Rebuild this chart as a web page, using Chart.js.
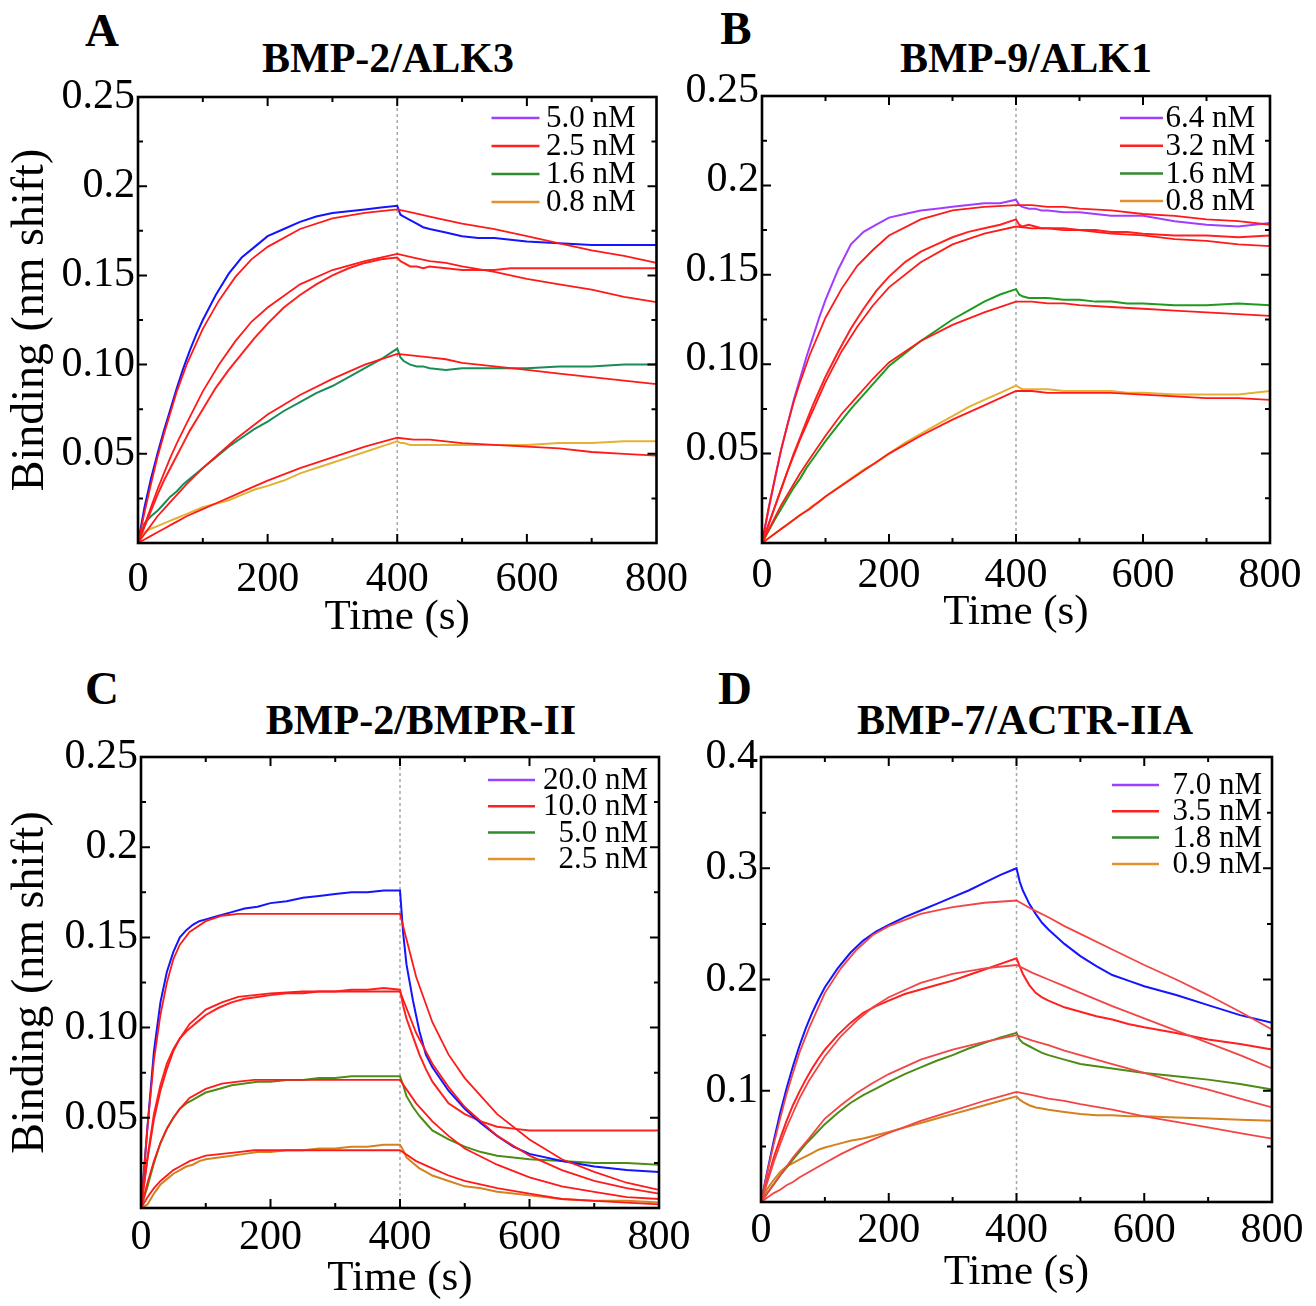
<!DOCTYPE html>
<html>
<head>
<meta charset="utf-8">
<script src="https://cdn.jsdelivr.net/npm/chart.js@4.4.1/dist/chart.umd.min.js"></script>
<style>
  body { margin: 0; background: #fff; width: 1316px; height: 1306px; position: relative; overflow: hidden;
         font-family: 'Liberation Serif', 'Times New Roman', serif; }
  canvas { position: absolute; }
  .lbl { position: absolute; font-weight: bold; transform: translate(-50%, -50%); white-space: nowrap;
         line-height: 1; color: #000; }
</style>
</head>
<body>
<div class="lbl" style="left:102px;top:30px;font-size:47px">A</div>
<div class="lbl" style="left:736px;top:28px;font-size:47px">B</div>
<div class="lbl" style="left:102px;top:688px;font-size:47px">C</div>
<div class="lbl" style="left:735px;top:688px;font-size:47px">D</div>
<div class="lbl" style="left:388px;top:58px;font-size:42px">BMP-2/ALK3</div>
<div class="lbl" style="left:1026px;top:58px;font-size:42px">BMP-9/ALK1</div>
<div class="lbl" style="left:421px;top:720px;font-size:42px">BMP-2/BMPR-II</div>
<div class="lbl" style="left:1025px;top:720px;font-size:42px">BMP-7/ACTR-IIA</div>

<canvas id="chartA" width="700" height="650" style="left:0;top:0"></canvas>
<canvas id="chartB" width="656" height="650" style="left:660px;top:0"></canvas>
<canvas id="chartC" width="700" height="656" style="left:0;top:650px"></canvas>
<canvas id="chartD" width="656" height="656" style="left:660px;top:650px"></canvas>

<script>
// sampling times (s)
const traceTime = [0, 10, 20, 30, 40, 50, 60, 70, 80, 90, 100, 120, 140, 160, 180, 200, 225, 250, 275, 300,
  325, 350, 375, 400, 405, 410, 420, 430, 440, 450, 475, 500, 525, 550, 575, 600, 650, 700, 750, 800];
const fitTime = [0, 10, 20, 30, 40, 50, 60, 75, 100, 125, 150, 175, 200, 250, 300, 350, 400,
  425, 450, 475, 500, 550, 600, 650, 700, 750, 800];
const switchTime = 400;
const xTicks = [0, 200, 400, 600, 800];

// A: BMP-2/ALK3
const concA = ['5.0 nM', '2.5 nM', '1.6 nM', '0.8 nM'];
const traceA1 = [0, 0.020, 0.036, 0.050, 0.063, 0.075, 0.087, 0.098, 0.108, 0.117, 0.125, 0.139, 0.151, 0.160, 0.166, 0.172, 0.176, 0.180, 0.183, 0.185,
  0.186, 0.187, 0.188, 0.189, 0.184, 0.183, 0.181, 0.179, 0.177, 0.176, 0.174, 0.172, 0.171, 0.171, 0.170, 0.169, 0.168, 0.167, 0.167, 0.167];
const traceA2 = [0, 0.009, 0.018, 0.027, 0.035, 0.042, 0.049, 0.056, 0.063, 0.069, 0.075, 0.087, 0.097, 0.106, 0.115, 0.123, 0.132, 0.139, 0.145, 0.150,
  0.154, 0.157, 0.159, 0.160, 0.158, 0.157, 0.155, 0.155, 0.154, 0.155, 0.154, 0.153, 0.153, 0.153, 0.154, 0.154, 0.154, 0.154, 0.154, 0.154];
const traceA3 = [0, 0.011, 0.015, 0.018, 0.022, 0.026, 0.029, 0.033, 0.036, 0.039, 0.042, 0.048, 0.054, 0.059, 0.064, 0.068, 0.074, 0.079, 0.084, 0.088,
  0.093, 0.098, 0.103, 0.109, 0.104, 0.102, 0.100, 0.099, 0.099, 0.098, 0.097, 0.098, 0.098, 0.098, 0.098, 0.098, 0.099, 0.099, 0.100, 0.100];
const traceA4 = [0, 0.006, 0.008, 0.0095, 0.011, 0.0125, 0.014, 0.0155, 0.017, 0.0185, 0.020, 0.022, 0.024, 0.027, 0.030, 0.032, 0.035, 0.039, 0.042, 0.045,
  0.048, 0.051, 0.054, 0.057, 0.056, 0.056, 0.055, 0.055, 0.055, 0.055, 0.055, 0.055, 0.055, 0.055, 0.055, 0.055, 0.056, 0.056, 0.057, 0.057];
const fitA1 = [0, 0.017, 0.033, 0.048, 0.061, 0.073, 0.085, 0.100, 0.120, 0.136, 0.149, 0.159, 0.166, 0.176, 0.182, 0.185, 0.187,
  0.185, 0.183, 0.181, 0.179, 0.176, 0.172, 0.168, 0.164, 0.161, 0.157];
const fitA2 = [0, 0.010, 0.020, 0.030, 0.039, 0.048, 0.056, 0.067, 0.085, 0.100, 0.113, 0.124, 0.132, 0.145, 0.153, 0.158, 0.162,
  0.160, 0.158, 0.157, 0.155, 0.152, 0.148, 0.145, 0.142, 0.138, 0.135];
const fitA3 = [0, 0.005, 0.010, 0.015, 0.019, 0.023, 0.027, 0.033, 0.042, 0.050, 0.058, 0.065, 0.072, 0.083, 0.092, 0.100, 0.106,
  0.105, 0.104, 0.103, 0.101, 0.099, 0.097, 0.095, 0.093, 0.091, 0.089];
const fitA4 = [0, 0.002, 0.004, 0.006, 0.008, 0.010, 0.012, 0.015, 0.019, 0.023, 0.027, 0.031, 0.035, 0.042, 0.048, 0.054, 0.059,
  0.058, 0.058, 0.057, 0.056, 0.055, 0.054, 0.053, 0.051, 0.050, 0.049];

// B: BMP-9/ALK1
const concB = ['6.4 nM', '3.2 nM', '1.6 nM', '0.8 nM'];
const traceB1 = [0, 0.018, 0.035, 0.052, 0.066, 0.080, 0.092, 0.104, 0.115, 0.126, 0.136, 0.153, 0.167, 0.174, 0.178, 0.182, 0.184, 0.186, 0.187, 0.188,
  0.189, 0.190, 0.190, 0.192, 0.189, 0.188, 0.187, 0.187, 0.186, 0.186, 0.185, 0.185, 0.184, 0.183, 0.183, 0.183, 0.180, 0.178, 0.177, 0.179];
const traceB2 = [0, 0.010, 0.020, 0.030, 0.040, 0.050, 0.059, 0.068, 0.077, 0.085, 0.093, 0.107, 0.120, 0.131, 0.141, 0.149, 0.157, 0.163, 0.167, 0.171,
  0.174, 0.176, 0.178, 0.181, 0.178, 0.177, 0.178, 0.177, 0.176, 0.176, 0.176, 0.175, 0.175, 0.174, 0.174, 0.173, 0.172, 0.172, 0.171, 0.172];
const traceB3 = [0, 0.0065, 0.013, 0.019, 0.025, 0.031, 0.036, 0.042, 0.047, 0.052, 0.057, 0.066, 0.075, 0.083, 0.091, 0.099, 0.106, 0.113, 0.119, 0.125,
  0.130, 0.135, 0.139, 0.142, 0.139, 0.138, 0.137, 0.137, 0.137, 0.137, 0.136, 0.136, 0.135, 0.135, 0.134, 0.134, 0.133, 0.133, 0.134, 0.133];
const traceB4 = [0, 0.0026, 0.0052, 0.0078, 0.0104, 0.013, 0.0156, 0.018, 0.021, 0.023, 0.026, 0.031, 0.036, 0.041, 0.045, 0.050, 0.056, 0.061, 0.066, 0.071,
  0.076, 0.080, 0.084, 0.088, 0.087, 0.086, 0.086, 0.086, 0.086, 0.086, 0.085, 0.085, 0.085, 0.085, 0.084, 0.084, 0.083, 0.083, 0.083, 0.085];
const fitB1 = [0, 0.019, 0.036, 0.052, 0.066, 0.079, 0.090, 0.105, 0.126, 0.142, 0.155, 0.164, 0.172, 0.181, 0.186, 0.188, 0.189,
  0.189, 0.188, 0.188, 0.187, 0.186, 0.184, 0.183, 0.181, 0.180, 0.178];
const fitB2 = [0, 0.010, 0.020, 0.030, 0.040, 0.049, 0.058, 0.070, 0.090, 0.107, 0.121, 0.133, 0.143, 0.157, 0.167, 0.173, 0.177,
  0.176, 0.176, 0.175, 0.175, 0.173, 0.172, 0.170, 0.169, 0.167, 0.166];
const fitB3 = [0, 0.007, 0.014, 0.021, 0.027, 0.033, 0.039, 0.047, 0.060, 0.072, 0.082, 0.092, 0.101, 0.113, 0.122, 0.129, 0.135,
  0.135, 0.134, 0.134, 0.133, 0.132, 0.131, 0.130, 0.129, 0.128, 0.127];
const fitB4 = [0, 0.0026, 0.0052, 0.0078, 0.0104, 0.013, 0.0156, 0.019, 0.026, 0.032, 0.038, 0.044, 0.050, 0.060, 0.069, 0.077, 0.085,
  0.085, 0.084, 0.084, 0.084, 0.084, 0.083, 0.082, 0.081, 0.081, 0.080];

// C: BMP-2/BMPR-II
const concC = ['20.0 nM', '10.0 nM', '5.0 nM', '2.5 nM'];
const traceC1 = [0, 0.045, 0.087, 0.114, 0.131, 0.142, 0.150, 0.154, 0.157, 0.159, 0.160, 0.162, 0.164, 0.166, 0.167, 0.169, 0.170, 0.172, 0.173, 0.174,
  0.175, 0.175, 0.176, 0.176, 0.152, 0.135, 0.115, 0.098, 0.085, 0.078, 0.065, 0.055, 0.047, 0.040, 0.034, 0.030, 0.026, 0.023, 0.021, 0.020];
const traceC2 = [0, 0.028, 0.052, 0.068, 0.080, 0.088, 0.094, 0.098, 0.101, 0.104, 0.107, 0.111, 0.114, 0.116, 0.117, 0.118, 0.119, 0.119, 0.120, 0.120,
  0.121, 0.121, 0.122, 0.121, 0.112, 0.105, 0.095, 0.085, 0.077, 0.070, 0.058, 0.052, 0.048, 0.045, 0.044, 0.043, 0.043, 0.043, 0.043, 0.043];
const traceC3 = [0, 0.012, 0.025, 0.036, 0.044, 0.050, 0.055, 0.058, 0.060, 0.062, 0.064, 0.066, 0.068, 0.069, 0.070, 0.070, 0.071, 0.071, 0.072, 0.072,
  0.073, 0.073, 0.073, 0.073, 0.068, 0.062, 0.056, 0.051, 0.047, 0.043, 0.038, 0.034, 0.031, 0.029, 0.028, 0.027, 0.026, 0.025, 0.025, 0.024];
const traceC4 = [0, 0.002, 0.008, 0.013, 0.016, 0.019, 0.021, 0.023, 0.024, 0.026, 0.027, 0.028, 0.029, 0.030, 0.031, 0.031, 0.032, 0.032, 0.033, 0.033,
  0.034, 0.034, 0.035, 0.035, 0.032, 0.028, 0.025, 0.022, 0.020, 0.018, 0.015, 0.012, 0.011, 0.009, 0.008, 0.007, 0.005, 0.004, 0.004, 0.003];
const fitC1 = [0, 0.045, 0.082, 0.107, 0.125, 0.138, 0.146, 0.153, 0.159, 0.162, 0.163, 0.163, 0.163, 0.163, 0.163, 0.163, 0.163,
  0.128, 0.103, 0.085, 0.072, 0.052, 0.038, 0.027, 0.020, 0.014, 0.010];
const fitC2 = [0, 0.027, 0.049, 0.065, 0.077, 0.087, 0.094, 0.102, 0.110, 0.114, 0.117, 0.118, 0.119, 0.120, 0.120, 0.120, 0.120,
  0.097, 0.080, 0.067, 0.056, 0.040, 0.029, 0.021, 0.015, 0.011, 0.008];
const fitC3 = [0, 0.014, 0.026, 0.036, 0.044, 0.050, 0.055, 0.061, 0.066, 0.069, 0.070, 0.071, 0.071, 0.071, 0.071, 0.071, 0.071,
  0.058, 0.048, 0.040, 0.033, 0.024, 0.017, 0.012, 0.009, 0.006, 0.005];
const fitC4 = [0, 0.006, 0.011, 0.015, 0.018, 0.021, 0.023, 0.026, 0.029, 0.030, 0.031, 0.032, 0.032, 0.032, 0.032, 0.032, 0.032,
  0.026, 0.022, 0.018, 0.015, 0.011, 0.008, 0.005, 0.004, 0.003, 0.002];

// D: BMP-7/ACTR-IIA
const concD = ['7.0 nM', '3.5 nM', '1.8 nM', '0.9 nM'];
const traceD1 = [0, 0.028, 0.055, 0.080, 0.102, 0.122, 0.140, 0.156, 0.170, 0.182, 0.193, 0.210, 0.224, 0.235, 0.243, 0.249, 0.256, 0.262, 0.268, 0.274,
  0.280, 0.287, 0.294, 0.300, 0.288, 0.280, 0.268, 0.259, 0.251, 0.245, 0.232, 0.221, 0.212, 0.204, 0.199, 0.194, 0.186, 0.177, 0.168, 0.161];
const traceD2 = [0, 0.020, 0.040, 0.057, 0.073, 0.087, 0.099, 0.110, 0.120, 0.129, 0.137, 0.150, 0.161, 0.170, 0.176, 0.181, 0.187, 0.191, 0.195, 0.199,
  0.204, 0.209, 0.214, 0.219, 0.212, 0.205, 0.195, 0.188, 0.184, 0.181, 0.175, 0.171, 0.167, 0.164, 0.160, 0.157, 0.152, 0.146, 0.142, 0.137];
const traceD3 = [0, 0.008, 0.016, 0.024, 0.031, 0.038, 0.045, 0.052, 0.058, 0.064, 0.070, 0.080, 0.089, 0.096, 0.102, 0.108, 0.115, 0.121, 0.127, 0.132,
  0.138, 0.143, 0.148, 0.152, 0.146, 0.143, 0.140, 0.137, 0.134, 0.132, 0.128, 0.124, 0.122, 0.120, 0.118, 0.116, 0.113, 0.110, 0.106, 0.101];
const traceD4 = [0, 0.012, 0.020, 0.027, 0.032, 0.035, 0.038, 0.041, 0.044, 0.047, 0.049, 0.052, 0.055, 0.057, 0.060, 0.063, 0.067, 0.071, 0.075, 0.079,
  0.083, 0.087, 0.091, 0.095, 0.092, 0.090, 0.087, 0.085, 0.084, 0.083, 0.081, 0.079, 0.078, 0.078, 0.077, 0.077, 0.076, 0.075, 0.074, 0.073];
const fitD1 = [0, 0.027, 0.052, 0.075, 0.097, 0.116, 0.134, 0.156, 0.188, 0.210, 0.227, 0.240, 0.248, 0.259, 0.265, 0.269, 0.271,
  0.263, 0.256, 0.248, 0.241, 0.227, 0.213, 0.200, 0.186, 0.171, 0.155];
const fitD2 = [0, 0.018, 0.036, 0.052, 0.067, 0.080, 0.093, 0.109, 0.131, 0.149, 0.163, 0.175, 0.184, 0.197, 0.205, 0.210, 0.213,
  0.206, 0.200, 0.194, 0.188, 0.176, 0.165, 0.154, 0.143, 0.132, 0.120];
const fitD3 = [0, 0.008, 0.016, 0.024, 0.032, 0.040, 0.047, 0.057, 0.075, 0.087, 0.098, 0.107, 0.115, 0.128, 0.137, 0.144, 0.150,
  0.145, 0.141, 0.136, 0.132, 0.124, 0.116, 0.108, 0.101, 0.093, 0.085];
const fitD4 = [0, 0.004, 0.008, 0.011, 0.015, 0.018, 0.022, 0.027, 0.035, 0.043, 0.050, 0.056, 0.062, 0.073, 0.082, 0.091, 0.099,
  0.096, 0.093, 0.091, 0.088, 0.083, 0.077, 0.072, 0.067, 0.062, 0.057];

const yTicks25 = [0, 0.05, 0.10, 0.15, 0.2, 0.25];
const yText25 = ['', '0.05', '0.10', '0.15', '0.2', '0.25'];
const yTicks40 = [0, 0.1, 0.2, 0.3, 0.4];
const yText40 = ['', '0.1', '0.2', '0.3', '0.4'];

const serif = "'Liberation Serif', 'Times New Roman', serif";
const legendColors = ['#a040ff', '#ff2020', '#2e8b2e', '#e39030'];

const toPoints = (times, vals) => vals.map((v, i) => ({ x: times[i], y: v }));

// box around the plot with inward major/minor ticks on all four sides
const frameTicks = {
  id: 'frameTicks',
  afterDatasetsDraw(chart, args, o) {
    const { ctx, chartArea: a, scales: { x, y } } = chart;
    ctx.save();
    ctx.strokeStyle = '#000';
    ctx.lineWidth = 2;
    ctx.beginPath();
    for (let v = 100; v < 800; v += 100) {
      const px = x.getPixelForValue(v);
      const len = v % 200 === 0 ? 9 : 5;
      ctx.moveTo(px, a.bottom); ctx.lineTo(px, a.bottom - len);
      ctx.moveTo(px, a.top); ctx.lineTo(px, a.top + len);
    }
    const n = Math.round(o.yMax / o.yMinor);
    for (let k = 1; k < n; k++) {
      const py = y.getPixelForValue(k * o.yMinor);
      const len = k % 2 === 0 ? 9 : 5;
      ctx.moveTo(a.left, py); ctx.lineTo(a.left + len, py);
      ctx.moveTo(a.right, py); ctx.lineTo(a.right - len, py);
    }
    ctx.stroke();
    ctx.lineWidth = 2.6;
    ctx.strokeRect(a.left, a.top, a.right - a.left, a.bottom - a.top);
    ctx.restore();
  }
};

const concLegend = {
  id: 'concLegend',
  afterDraw(chart, args, o) {
    const { ctx, chartArea: a } = chart;
    ctx.save();
    ctx.font = '31px ' + serif;
    ctx.textAlign = 'right';
    ctx.textBaseline = 'middle';
    o.labels.forEach((t, i) => {
      const yy = a.top + o.top + i * o.gap;
      ctx.strokeStyle = legendColors[i];
      ctx.lineWidth = 2.5;
      ctx.beginPath();
      ctx.moveTo(a.right - o.lineFrom, yy);
      ctx.lineTo(a.right - o.lineTo, yy);
      ctx.stroke();
      ctx.fillStyle = '#000';
      ctx.fillText(t, a.right - o.textRight, yy + 1);
    });
    ctx.restore();
  }
};

function bindingPanel(id, p) {
  const datasets = [];
  p.fits.forEach(f => datasets.push({
    data: toPoints(fitTime, f), borderColor: p.fitColor, borderWidth: 1.8, order: 0
  }));
  p.traces.forEach((t, i) => datasets.push({
    data: toPoints(traceTime, t), borderColor: p.colors[i], borderWidth: 2, order: 1
  }));
  datasets.push({
    data: [{ x: switchTime, y: 0 }, { x: switchTime, y: p.yMax }],
    borderColor: '#a8a8a8', borderWidth: 1.5, borderDash: [3, 3], order: 2
  });

  return new Chart(document.getElementById(id), {
    type: 'line',
    data: { datasets },
    plugins: [frameTicks, concLegend],
    options: {
      responsive: false,
      animation: false,
      devicePixelRatio: 1,
      layout: { padding: { top: p.padTop, right: p.padRight, left: 0, bottom: 0 } },
      elements: { point: { radius: 0 }, line: { tension: 0, fill: false } },
      plugins: {
        legend: { display: false },
        tooltip: { enabled: false },
        frameTicks: { yMax: p.yMax, yMinor: p.yMinor },
        concLegend: p.legend,
      },
      scales: {
        x: {
          type: 'linear', min: 0, max: 800,
          afterBuildTicks: ax => { ax.ticks = xTicks.map(v => ({ value: v })); },
          afterFit: ax => { ax.height = p.xHeight; },
          grid: { display: false, drawTicks: false },
          border: { display: false },
          ticks: { color: '#000', font: { family: serif, size: 42 }, padding: p.xPad, maxRotation: 0, autoSkip: false },
          title: {
            display: true, text: 'Time (s)', color: '#000',
            font: { family: serif, size: 43, lineHeight: 1.2 }, padding: { top: 0, bottom: p.xTitlePad }
          },
        },
        y: {
          type: 'linear', min: 0, max: p.yMax,
          afterBuildTicks: ax => { ax.ticks = p.yTicks.map(v => ({ value: v })); },
          afterFit: ax => { ax.width = p.yWidth; },
          grid: { display: false, drawTicks: false },
          border: { display: false },
          ticks: {
            color: '#000', font: { family: serif, size: 42 }, padding: 3, autoSkip: false,
            labelOffset: p.yLabelOffset || 0,
            callback: (v, i) => p.yText[i],
          },
          title: {
            display: !!p.yTitle, text: 'Binding (nm shift)', color: '#000',
            font: { family: serif, size: 46, lineHeight: 1.2 }, padding: { top: 3, bottom: 0 }
          },
        },
      },
    },
  });
}

bindingPanel('chartA', {
  traces: [traceA1, traceA2, traceA3, traceA4], fits: [fitA1, fitA2, fitA3, fitA4],
  colors: ['#1414ff', '#ff2020', '#1a8c55', '#e3b234'], fitColor: '#ff1a1a',
  yMax: 0.25, yMinor: 0.025, yTicks: yTicks25, yText: yText25, yTitle: true,
  padTop: 97, padRight: 43, yWidth: 138, xHeight: 107, xPad: 12, xTitlePad: 6,
  legend: { labels: concA, top: 21, gap: 28, lineFrom: 165, lineTo: 117, textRight: 21 },
});

bindingPanel('chartB', {
  traces: [traceB1, traceB2, traceB3, traceB4], fits: [fitB1, fitB2, fitB3, fitB4],
  colors: ['#a23cff', '#ff2020', '#1f9a1f', '#e6b030'], fitColor: '#ff1a1a',
  yMax: 0.25, yMinor: 0.025, yTicks: yTicks25, yText: yText25, yTitle: false, yLabelOffset: -5,
  padTop: 96, padRight: 46, yWidth: 102, xHeight: 107, xPad: 8, xTitlePad: 11,
  legend: { labels: concB, top: 22, gap: 27.7, lineFrom: 150, lineTo: 107, textRight: 15 },
});

bindingPanel('chartC', {
  traces: [traceC1, traceC2, traceC3, traceC4], fits: [fitC1, fitC2, fitC3, fitC4],
  colors: ['#1414ff', '#ff2020', '#4d8c14', '#d4821e'], fitColor: '#ff1a1a',
  yMax: 0.25, yMinor: 0.025, yTicks: yTicks25, yText: yText25, yTitle: true,
  padTop: 107, padRight: 41, yWidth: 141, xHeight: 98, xPad: 5, xTitlePad: 1,
  legend: { labels: concC, top: 23, gap: 26.3, lineFrom: 171, lineTo: 124, textRight: 11 },
});

bindingPanel('chartD', {
  traces: [traceD1, traceD2, traceD3, traceD4], fits: [fitD1, fitD2, fitD3, fitD4],
  colors: ['#1414ff', '#ff2020', '#4d8c14', '#d4821e'], fitColor: '#f34545',
  yMax: 0.4, yMinor: 0.05, yTicks: yTicks40, yText: yText40, yTitle: false,
  padTop: 107, padRight: 44, yWidth: 101, xHeight: 104, xPad: 4, xTitlePad: 7,
  legend: { labels: concD, top: 28, gap: 26.3, lineFrom: 160, lineTo: 113, textRight: 10 },
});
</script>
</body>
</html>
